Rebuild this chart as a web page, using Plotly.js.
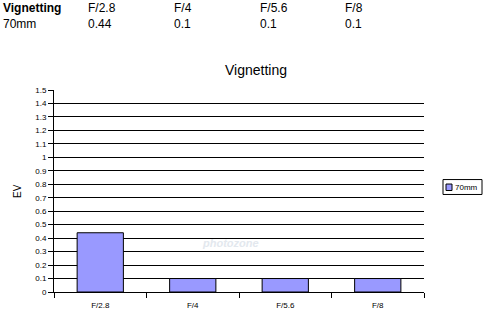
<!DOCTYPE html>
<html>
<head>
<meta charset="utf-8">
<script src="https://cdn.plot.ly/plotly-3.0.1.min.js"></script>
<style>html,body{margin:0;padding:0;background:#fff}#chart{width:498px;height:317px}</style>
</head>
<body>
<div id="chart"></div>
<script>
// Data
const categories = ["F/2.8", "F/4", "F/5.6", "F/8"];
const seriesName = "70mm";
const vignetting70mm = [0.44, 0.1, 0.1, 0.1];
const tableHeader = ["Vignetting", "F/2.8", "F/4", "F/5.6", "F/8"];
const tableRow = ["70mm", "0.44", "0.1", "0.1", "0.1"];

// Layout geometry (pixels)
const W = 498, H = 317;
const plotL = 54, plotR = 424, plotT = 89.5, plotB = 292.5;
const plotW = plotR - plotL, plotH = plotB - plotT;
const colX = [1, 86, 172, 258, 343];
const rowY = [7, 23];
const BAR_COLOR = "#9999ff";

const FONT = "Liberation Sans, Arial, sans-serif";

// pixel -> paper helpers (for text/decoration placement only)
const px = v => (v - plotL) / plotW;
const py = v => (plotB - v) / plotH;

const annotations = [];
tableHeader.forEach((t, i) => {
  annotations.push({
    xref: "paper", yref: "paper", x: px(colX[i]), y: py(rowY[0]),
    xanchor: "left", yanchor: "middle", showarrow: false,
    text: i === 0 ? "<b>" + t + "</b>" : t,
    font: {family: FONT, size: 12, color: "#000"}
  });
});
tableRow.forEach((t, i) => {
  annotations.push({
    xref: "paper", yref: "paper", x: px(colX[i]), y: py(rowY[1]),
    xanchor: "left", yanchor: "middle", showarrow: false,
    text: t,
    font: {family: FONT, size: 12, color: "#000"}
  });
});
// Y axis title
annotations.push({
  xref: "paper", yref: "paper", x: px(17), y: 0.5,
  xanchor: "center", yanchor: "middle",
  textangle: -90, showarrow: false, text: "EV",
  font: {family: FONT, size: 10, color: "#000"}
});
// Faint watermark
annotations.push({
  xref: "paper", yref: "paper", x: px(230), y: py(243),
  xanchor: "center", yanchor: "middle",
  showarrow: false, text: "<b><i>photozone</i></b>",
  font: {family: FONT, size: 11, color: "#e3e8ee"}
});
// Legend text
annotations.push({
  xref: "paper", yref: "paper", x: px(453), y: py(187),
  xanchor: "left", yanchor: "middle", showarrow: false,
  text: seriesName,
  font: {family: FONT, size: 8, color: "#000"}
});

const shapes = [
  // legend box
  {type: "rect", xref: "paper", yref: "paper",
   x0: px(443), x1: px(482), y0: py(179.5), y1: py(194.5),
   line: {color: "#000", width: 1}, fillcolor: "#fff", layer: "above"},
  // legend swatch
  {type: "rect", xref: "paper", yref: "paper",
   x0: px(446), x1: px(452), y0: py(184), y1: py(190.5),
   line: {color: "#000", width: 1}, fillcolor: BAR_COLOR, layer: "above"}
];

const trace = {
  type: "bar",
  x: categories,
  y: vignetting70mm,
  name: seriesName,
  marker: {color: BAR_COLOR, line: {color: "#000", width: 1}},
  showlegend: false,
  hoverinfo: "skip"
};

const layout = {
  width: W, height: H,
  margin: {l: plotL, r: W - plotR, t: plotT, b: H - plotB, pad: 0, autoexpand: false},
  paper_bgcolor: "#fff", plot_bgcolor: "#fff",
  font: {family: FONT, color: "#000"},
  bargap: 0.5,
  showlegend: false,
  title: {
    text: "Vignetting",
    font: {family: FONT, size: 14, color: "#000"},
    x: 256 / W, xanchor: "center", xref: "container",
    y: 1 - 70 / H, yanchor: "middle", yref: "container"
  },
  xaxis: {
    type: "category",
    showgrid: false,
    showline: true, linecolor: "#000", linewidth: 1,
    ticks: "outside", tickson: "boundaries", ticklen: 5, tickcolor: "#000",
    ticklabelstandoff: 5,
    tickfont: {family: FONT, size: 8, color: "#000"},
    zeroline: false, fixedrange: true
  },
  yaxis: {
    range: [0, 1.5], dtick: 0.1, tick0: 0,
    showgrid: true, gridcolor: "#000", gridwidth: 1,
    showline: true, linecolor: "#000", linewidth: 1,
    ticks: "outside", ticklen: 5, tickcolor: "#000",
    tickfont: {family: FONT, size: 8, color: "#000"},
    zeroline: false, fixedrange: true
  },
  shapes: shapes,
  annotations: annotations
};

Plotly.newPlot("chart", [trace], layout, {displayModeBar: false, staticPlot: true});
</script>
</body>
</html>
